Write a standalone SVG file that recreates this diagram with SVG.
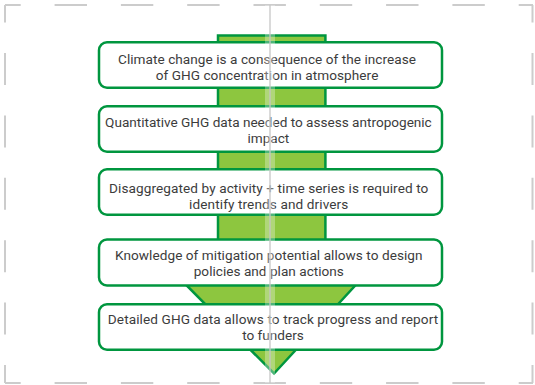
<svg xmlns="http://www.w3.org/2000/svg" width="535" height="385" viewBox="0 0 535 385">
<defs>
<style>
.guide{stroke:#cccccc;stroke-width:2;fill:none}
.gh{stroke-dasharray:32.4 33.9;stroke-dashoffset:16.7}
.gv{stroke-dasharray:32 30.4;stroke-dashoffset:14.4}
.arrow{fill:#8dc63f;stroke:#00963f;stroke-width:2.5;stroke-linejoin:miter}
.box{fill:#ffffff;stroke:#00963f;stroke-width:2.5}
.t{font-family:Roboto,"Liberation Sans",sans-serif;font-size:13.6px;fill:#3c3c3c;text-anchor:middle}
</style>
</defs>
<rect width="535" height="385" fill="#ffffff"/>
<g id="frame">
<line class="guide gh" x1="5" y1="5" x2="533" y2="5"/>
<line class="guide gh" x1="5" y1="383" x2="533" y2="383"/>
<line class="guide gv" x1="5" y1="5" x2="5" y2="383"/>
<line class="guide gv" x1="532.5" y1="5" x2="532.5" y2="383"/>
</g>
<g id="connectors">
<polygon class="arrow" points="218,35.5 325.4,35.5 325.4,272 367.7,272 274,373.5 173.3,272 218,272"/>
</g>
<g id="node1">
<rect class="box" x="99" y="42.25" width="343" height="45.5" rx="8"/>
<text class="t" x="267" y="64" textLength="298" lengthAdjust="spacing">Climate change is a consequence of the increase</text>
<text class="t" x="267" y="80" textLength="222.7" lengthAdjust="spacing">of GHG concentration in atmosphere</text>
</g>
<g id="node2">
<rect class="box" x="99" y="106.25" width="343" height="45.5" rx="8"/>
<text class="t" x="268.4" y="127" textLength="326.7" lengthAdjust="spacing">Quantitative GHG data needed to assess antropogenic</text>
<text class="t" x="268.4" y="142.5">impact</text>
</g>
<g id="node3">
<rect class="box" x="99" y="169.25" width="343" height="45.5" rx="8"/>
<text class="t" x="268.7" y="192.5" textLength="319.3" lengthAdjust="spacing">Disaggregated by activity + time series is required to</text>
<text class="t" x="268.7" y="208.5" textLength="159.3" lengthAdjust="spacing">identify trends and drivers</text>
</g>
<g id="node4">
<rect class="box" x="99" y="239.5" width="343" height="46" rx="8"/>
<text class="t" x="268.8" y="259.5" textLength="307.5" lengthAdjust="spacing">Knowledge of mitigation potential allows to design</text>
<text class="t" x="268.8" y="276" textLength="150.2" lengthAdjust="spacing">policies and plan actions</text>
</g>
<g id="node5">
<rect class="box" x="99" y="304.25" width="343" height="45.5" rx="8"/>
<text class="t" x="273" y="323.5" textLength="330.4" lengthAdjust="spacing">Detailed GHG data allows to track progress and report</text>
<text class="t" x="273" y="340">to funders</text>
</g>
<g id="centerGuide">
<rect x="265" y="5" width="10" height="378" fill="#ffffff" fill-opacity="0.3"/>
<line x1="270" y1="5" x2="270" y2="383" stroke="#c4c4c4" stroke-width="1.5" stroke-opacity="0.85"/>
</g>
</svg>
